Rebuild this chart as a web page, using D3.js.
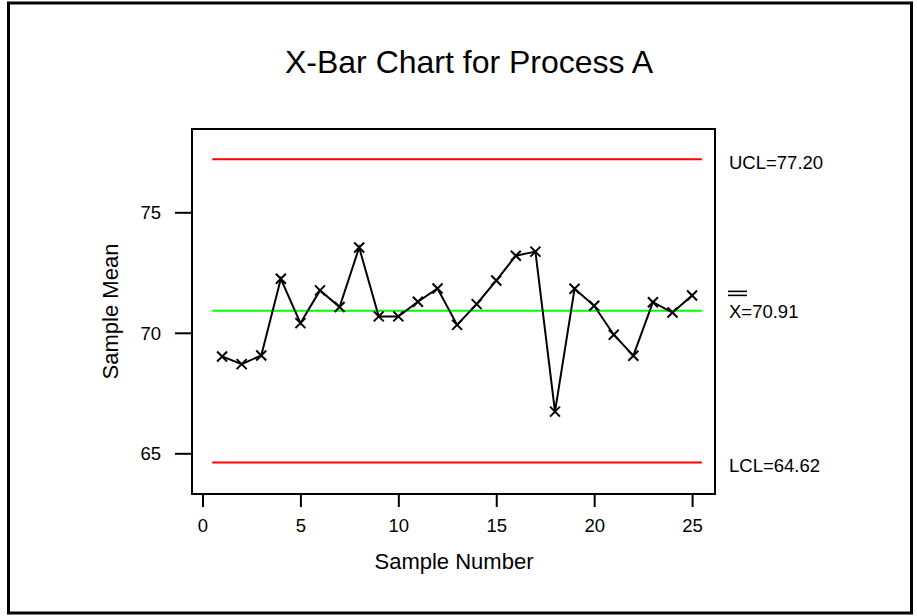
<!DOCTYPE html>
<html>
<head>
<meta charset="utf-8">
<script src="https://cdn.jsdelivr.net/npm/d3@7"></script>
<style>
  html, body { margin: 0; padding: 0; background: #fff; }
  svg { display: block; }
  text { font-family: "Liberation Sans", Arial, sans-serif; fill: #000; }
</style>
</head>
<body>
<svg id="chart" width="917" height="616"></svg>
<script>
// ---- Data ----
const sampleNumbers = [1,2,3,4,5,6,7,8,9,10,11,12,13,14,15,16,17,18,19,20,21,22,23,24,25];
const sampleMeans = [69.02,68.70,69.06,72.24,70.40,71.76,71.07,73.54,70.68,70.68,71.29,71.84,70.33,71.19,72.17,73.20,73.37,66.73,71.83,71.12,69.92,69.05,71.27,70.84,71.55];
const controlNames = ["UCL","CL","LCL"];
const controlValues = [77.20, 70.91, 64.62];
const controlColors = ["#ff0000","#00ff00","#ff0000"];
const xTicks = [0,5,10,15,20,25];
const yTicks = [65,70,75];
const titleText = "X-Bar Chart for Process A";
const xLabel = "Sample Number";
const yLabel = "Sample Mean";

// ---- Layout ----
const svg = d3.select("#chart");
const frame = {left: 192, right: 715, top: 129, bottom: 494};

const x = d3.scaleLinear().domain([-0.536, 26.17]).range([frame.left, frame.right]);
const y = d3.scaleLinear().domain([63.311, 78.457]).range([frame.bottom, frame.top]);

// outer border
svg.append("rect")
  .attr("x", 8.5).attr("y", 3).attr("width", 903).attr("height", 610)
  .attr("fill", "none").attr("stroke", "#000").attr("stroke-width", 3);

// title
svg.append("text")
  .attr("x", 469).attr("y", 72.7)
  .attr("text-anchor", "middle")
  .style("font-size", "32px")
  .text(titleText);

// frame
svg.append("rect")
  .attr("x", frame.left).attr("y", frame.top)
  .attr("width", frame.right - frame.left).attr("height", frame.bottom - frame.top)
  .attr("fill", "none").attr("stroke", "#000").attr("stroke-width", 2);

// y axis
const yAxis = svg.append("g")
  .attr("transform", `translate(${frame.left},0)`)
  .call(d3.axisLeft(y).tickValues(yTicks).tickSize(17).tickSizeOuter(0).tickPadding(14));
yAxis.select(".domain").remove();
yAxis.selectAll(".tick line").attr("stroke", "#000").attr("stroke-width", 2);
yAxis.selectAll(".tick text")
  .style("font-size", "18.5px")
  .style("font-family", "'Liberation Sans', Arial, sans-serif")
  .attr("dy", "0.36em");

// x axis
const xAxis = svg.append("g")
  .attr("transform", `translate(0,${frame.bottom})`)
  .call(d3.axisBottom(x).tickValues(xTicks).tickSize(13).tickSizeOuter(0));
xAxis.select(".domain").remove();
xAxis.selectAll(".tick line").attr("stroke", "#000").attr("stroke-width", 2);
xAxis.selectAll(".tick text")
  .style("font-size", "18.5px")
  .style("font-family", "'Liberation Sans', Arial, sans-serif")
  .attr("y", 37.7).attr("dy", null);

// axis titles
svg.append("text")
  .attr("x", 454).attr("y", 569.3)
  .attr("text-anchor", "middle")
  .style("font-size", "22px")
  .text(xLabel);

svg.append("text")
  .attr("transform", `translate(118,${(frame.top + frame.bottom) / 2}) rotate(-90)`)
  .attr("text-anchor", "middle")
  .style("font-size", "22px")
  .text(yLabel);

// control lines
svg.append("g").selectAll("line")
  .data(controlValues)
  .join("line")
  .attr("x1", x(0.5)).attr("x2", x(25.5))
  .attr("y1", d => y(d)).attr("y2", d => y(d))
  .attr("stroke", (d, i) => controlColors[i])
  .attr("stroke-width", 2);

// control labels
const labelX = frame.right + 14;
svg.append("text").attr("x", labelX).attr("y", y(controlValues[0]) + 10)
  .style("font-size", "18.5px").text("UCL=" + controlValues[0].toFixed(2));
svg.append("text").attr("x", labelX).attr("y", y(controlValues[2]) + 9.5)
  .style("font-size", "18.5px").text("LCL=" + controlValues[2].toFixed(2));
const cl = svg.append("text").attr("x", labelX).attr("y", y(controlValues[1]) + 7.5)
  .style("font-size", "18.5px").text("X=" + controlValues[1].toFixed(2));
// double overbar
[0, 4].forEach(off => {
  svg.append("line")
    .attr("x1", labelX - 1).attr("x2", labelX + 18)
    .attr("y1", y(controlValues[1]) - 19.5 + off).attr("y2", y(controlValues[1]) - 19.5 + off)
    .attr("stroke", "#000").attr("stroke-width", 1.6);
});

// data line
const pts = sampleNumbers.map((n, i) => [n, sampleMeans[i]]);
svg.append("path")
  .datum(pts)
  .attr("fill", "none")
  .attr("stroke", "#000")
  .attr("stroke-width", 2)
  .attr("d", d3.line().x(d => x(d[0])).y(d => y(d[1])));

// markers
const m = 5;
svg.append("g").selectAll("path")
  .data(pts)
  .join("path")
  .attr("d", d => {
    const cx = x(d[0]), cy = y(d[1]);
    return `M${cx - m},${cy - m}L${cx + m},${cy + m}M${cx - m},${cy + m}L${cx + m},${cy - m}`;
  })
  .attr("stroke", "#000")
  .attr("stroke-width", 2)
  .attr("fill", "none");
</script>
</body>
</html>
